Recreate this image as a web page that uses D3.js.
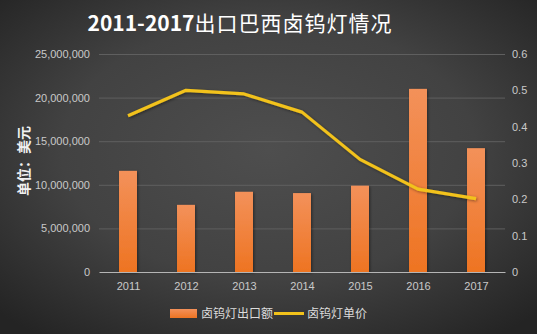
<!DOCTYPE html>
<html>
<head>
<meta charset="utf-8">
<script src="https://cdn.jsdelivr.net/npm/d3@7/dist/d3.min.js"></script>
<style>
  html, body { margin: 0; padding: 0; background: #333; }
  svg { display: block; }
</style>
</head>
<body>
<div id="chart"></div>
<script>
// Halogen lamp exports to Brazil, 2011-2017
const years = ["2011", "2012", "2013", "2014", "2015", "2016", "2017"];
const exportValue = [11600000, 7700000, 9200000, 9050000, 9900000, 21000000, 14200000];
const unitPrice = [0.43, 0.50, 0.49, 0.44, 0.31, 0.228, 0.202];
const leftTicks = [0, 5000000, 10000000, 15000000, 20000000, 25000000];
const rightTicks = [0, 0.1, 0.2, 0.3, 0.4, 0.5, 0.6];
const titleYears = "2011-2017";
const titleRest = "出口巴西卤钨灯情况";
const yAxisTitle = "单位：美元";
const barName = "卤钨灯出口额";
const lineName = "卤钨灯单价";

const W = 537, H = 334;
const plot = { left: 99, right: 505, top: 54, bottom: 272 };

const svg = d3.select("#chart").append("svg")
  .attr("width", W).attr("height", H);

const defs = svg.append("defs");
const bg = defs.append("radialGradient").attr("id", "bg")
  .attr("cx", "50%").attr("cy", "45%").attr("r", "70%");
bg.append("stop").attr("offset", "0%").attr("stop-color", "#4e4e4e");
bg.append("stop").attr("offset", "55%").attr("stop-color", "#424242");
bg.append("stop").attr("offset", "100%").attr("stop-color", "#242424");

const barGrad = defs.append("linearGradient").attr("id", "barGrad")
  .attr("x1", 0).attr("y1", 0).attr("x2", 0).attr("y2", 1);
barGrad.append("stop").attr("offset", "0%").attr("stop-color", "#f3915a");
barGrad.append("stop").attr("offset", "100%").attr("stop-color", "#ee7422");

const shadow = defs.append("filter").attr("id", "shadow")
  .attr("x", "-30%").attr("y", "-10%").attr("width", "160%").attr("height", "130%");
shadow.append("feDropShadow").attr("dx", 1).attr("dy", 1).attr("stdDeviation", 1.5)
  .attr("flood-color", "#000").attr("flood-opacity", 0.45);

svg.append("rect").attr("width", W).attr("height", H).attr("fill", "url(#bg)");

// Scales
const x = d3.scaleBand().domain(years).range([plot.left, plot.right]).paddingInner(0.69).paddingOuter(0.345);
const xc = d3.scalePoint().domain(years).range([plot.left, plot.right]).padding(0.5);
const yL = d3.scaleLinear().domain([0, 25000000]).range([plot.bottom, plot.top]);
const yR = d3.scaleLinear().domain([0, 0.6]).range([plot.bottom, plot.top]);

// Gridlines
svg.append("g")
  .attr("transform", `translate(${plot.left},0)`)
  .call(d3.axisLeft(yL).tickValues(leftTicks.slice(1)).tickSize(-(plot.right - plot.left)).tickFormat(""))
  .call(g => g.select(".domain").remove())
  .call(g => g.selectAll("line").attr("stroke", "#5f5f5f").attr("stroke-width", 1));

// Left axis labels
const fmt = d3.format(",");
svg.append("g")
  .attr("transform", `translate(${plot.left},0)`)
  .call(d3.axisLeft(yL).tickValues(leftTicks).tickSize(0).tickPadding(9).tickFormat(d => fmt(d)))
  .call(g => g.select(".domain").remove())
  .call(g => g.selectAll("text").attr("fill", "#c9c9c9")
    .style("font-family", "'Liberation Sans', Arial, sans-serif").style("font-size", "11px"));

// Right axis labels
svg.append("g")
  .attr("transform", `translate(${plot.right},0)`)
  .call(d3.axisRight(yR).tickValues(rightTicks).tickSize(0).tickPadding(7).tickFormat(d => d === 0 ? "0" : d3.format(".1f")(d)))
  .call(g => g.select(".domain").remove())
  .call(g => g.selectAll("text").attr("fill", "#c9c9c9")
    .style("font-family", "'Liberation Sans', Arial, sans-serif").style("font-size", "11px"));

// Bars
svg.append("g").selectAll("rect")
  .data(years)
  .join("rect")
  .attr("x", d => x(d))
  .attr("width", x.bandwidth())
  .attr("y", (d, i) => yL(exportValue[i]))
  .attr("height", (d, i) => plot.bottom - yL(exportValue[i]))
  .attr("fill", "url(#barGrad)")
  .attr("filter", "url(#shadow)");

// Baseline / x axis
svg.append("g")
  .attr("transform", `translate(0,${plot.bottom})`)
  .call(d3.axisBottom(xc).tickSize(0).tickPadding(10))
  .call(g => g.select(".domain").attr("stroke", "#b5b5b5").attr("stroke-width", 1.2))
  .call(g => g.selectAll("text").attr("fill", "#c9c9c9")
    .style("font-family", "'Liberation Sans', Arial, sans-serif").style("font-size", "11px"));

// Unit price line
const line = d3.line().x((d, i) => xc(years[i])).y(d => yR(d));
svg.append("path")
  .datum(unitPrice)
  .attr("d", line)
  .attr("fill", "none")
  .attr("stroke", "#f2c21b")
  .attr("stroke-width", 3.2)
  .attr("stroke-linejoin", "round")
  .attr("filter", "url(#shadow)");

// Title: bold digits, lighter CJK text
const title = svg.append("text")
  .attr("x", 240).attr("y", 31)
  .attr("text-anchor", "middle")
  .attr("fill", "#ffffff")
  .style("font-family", "'Noto Sans CJK SC', 'DejaVu Sans', sans-serif")
  .style("font-size", "21px");
title.append("tspan").style("font-weight", "bold").text(titleYears);
title.append("tspan").style("font-weight", "normal").attr("letter-spacing", "1px").text(titleRest);

// Left axis title
svg.append("text")
  .attr("transform", "translate(29,161) rotate(-90)")
  .attr("text-anchor", "middle")
  .attr("fill", "#f0f0f0")
  .style("font-family", "'Noto Sans CJK SC', sans-serif")
  .style("font-weight", "bold")
  .style("font-size", "14px")
  .text(yAxisTitle);

// Legend
const legend = svg.append("g").style("font-family", "'Noto Sans CJK SC', sans-serif").style("font-size", "12px");
legend.append("rect").attr("x", 170).attr("y", 309).attr("width", 27).attr("height", 9).attr("fill", "url(#barGrad)");
legend.append("text").attr("x", 201).attr("y", 318).attr("fill", "#dcdcdc").text(barName);
legend.append("line").attr("x1", 274).attr("x2", 304).attr("y1", 313.5).attr("y2", 313.5)
  .attr("stroke", "#f2c21b").attr("stroke-width", 3);
legend.append("text").attr("x", 307).attr("y", 318).attr("fill", "#dcdcdc").text(lineName);
</script>
</body>
</html>
